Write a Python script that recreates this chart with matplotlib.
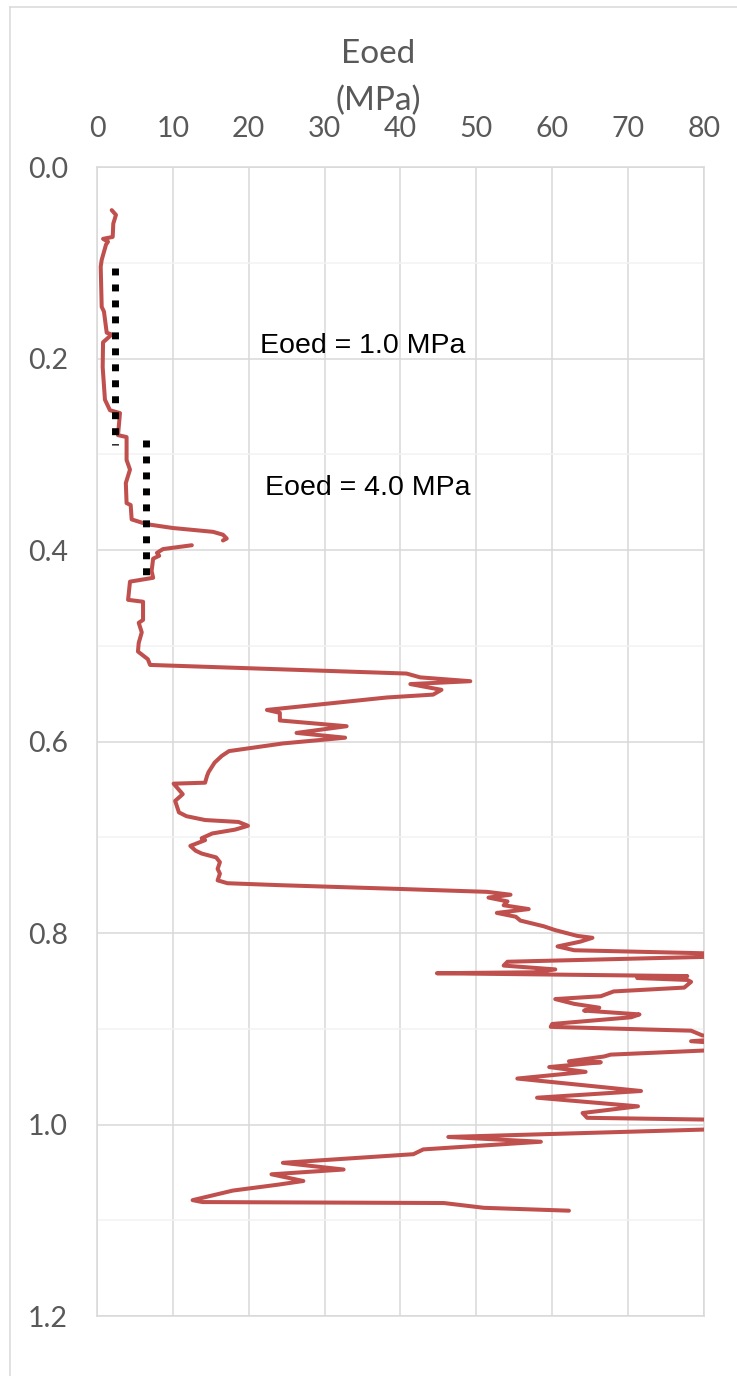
import numpy as np
import matplotlib
matplotlib.use('Agg')
import matplotlib.pyplot as plt
from matplotlib.lines import Line2D

nan = np.nan

# Eoed profile (depth, MPa); nan = gap in the record
depth = [0.045, 0.050, 0.059, 0.073, 0.075, 0.078, 0.081, 0.097, 0.104, 0.146,
         0.151, 0.173, 0.175, 0.183, 0.209, 0.243, 0.254, 0.257, 0.280, 0.282,
         0.306, 0.316, 0.330, 0.351, 0.353, 0.368, 0.373, 0.377, 0.381, 0.384,
         0.388, 0.390, nan,
         0.395, 0.399, 0.403, 0.406, 0.409, 0.422, 0.429, 0.433, 0.452, 0.454,
         0.473, 0.476, 0.486, 0.497, 0.506, 0.514, 0.520,
         0.529, 0.533, 0.537, 0.540, 0.546, 0.551, 0.554, 0.567, 0.570, 0.578,
         0.584, 0.591, 0.596, 0.602, 0.610, 0.615, 0.622, 0.632, 0.636, 0.643,
         0.644, 0.655, 0.662, 0.674, 0.678, 0.682, 0.684, 0.688, 0.692, 0.696,
         0.701, 0.703, 0.709, 0.714, 0.717, 0.721, 0.726, 0.733, 0.738, 0.745,
         0.748, 0.750, 0.754, 0.757, 0.760, 0.763, 0.767, 0.771, 0.775, 0.779,
         0.783, 0.787, 0.793, 0.797, 0.803, 0.805, 0.809, 0.814, 0.818, 0.823,
         0.830, 0.834, 0.838, 0.841, 0.842, 0.845, 0.847, 0.849, 0.851, 0.857,
         0.861, 0.866, 0.869, 0.874, 0.878, 0.881, 0.885, 0.888, 0.895, 0.898,
         0.902, 0.907, 0.910, 0.913, 0.916, 0.921, 0.927, 0.929, 0.934, 0.935,
         0.940, 0.945, 0.952, 0.965, 0.972, 0.981, 0.988, 0.993, 0.996, 1.003,
         1.013, 1.018, 1.026, 1.031, 1.040, 1.047, 1.052, 1.059, 1.063, 1.069,
         1.079, 1.081, 1.082, 1.087, 1.090]
eoed = [1.94, 2.5, 2.15, 2.07, 0.8, 1.45, 1.19, 0.62, 0.49, 0.62,
        0.92, 1.28, 1.94, 0.8, 0.75, 1.05, 1.71, 3.03, 2.77, 3.9,
        3.9, 4.35, 3.8, 3.9, 4.44, 4.57, 6.55, 10.0, 15.3, 16.6,
        17.1, 16.6, nan,
        12.5, 8.7, 7.9, 8.2, 7.4, 7.2, 7.4, 4.35, 4.1, 6.07,
        6.07, 5.5, 5.9, 5.5, 5.4, 6.7, 7.0,
        40.8, 42.6, 49.2, 41.3, 45.4, 44.3, 38.2, 22.4, 24.1, 24.1,
        32.9, 26.3, 32.7, 24.5, 17.4, 16.45, 15.5, 14.7, 14.5, 14.25,
        10.1, 11.3, 10.3, 10.8, 11.8, 14.25, 18.65, 19.9, 18.2, 15.2,
        13.8, 14.25, 12.3, 13.0, 13.8, 15.7, 16.2, 15.9, 16.2, 15.9,
        17.2, 24.0, 40.0, 51.4, 54.5, 51.6, 54.1, 53.6, 56.9, 52.7,
        55.2, 55.8, 58.9, 60.4, 63.3, 65.3, 63.7, 60.7, 62.9, 90.0,
        54.1, 53.6, 60.4, 57.6, 44.8, 77.8, 71.2, 77.8, 78.3, 77.4,
        68.1, 66.4, 60.4, 62.9, 66.2, 64.2, 71.5, 70.4, 60.0, 59.8,
        78.3, 79.8, 84.0, 78.3, 84.0, 85.0, 67.7, 66.8, 62.2, 66.4,
        59.6, 64.4, 55.4, 71.7, 58.0, 71.3, 64.0, 64.6, 90.0, 90.0,
        46.3, 58.5, 43.0, 41.7, 24.5, 32.5, 23.0, 27.2, 23.7, 17.9,
        12.6, 13.9, 45.7, 51.0, 62.2]

# design lines
line1_e = [2.4, 2.4]
line1_d = [0.105, 0.29]
line2_e = [6.5, 6.5]
line2_d = [0.285, 0.43]

x_ticks = list(range(0, 81, 10))
y_ticks = [0.0, 0.2, 0.4, 0.6, 0.8, 1.0, 1.2]

grey_txt = '#595959'
grid_c = '#D9D9D9'

fig = plt.figure(figsize=(7.37, 13.76), dpi=100)
ax = fig.add_axes([0.1316, 0.0436, 0.8236, 0.8350])

ax.plot(eoed, depth, color='#C0504D', lw=2.9, solid_capstyle='round',
        solid_joinstyle='round', zorder=3)
ax.plot(line1_e, line1_d, color='black', lw=5, linestyle=(0, (1, 1.3)),
        dash_capstyle='butt', zorder=4)
ax.plot(line2_e, line2_d, color='black', lw=5, linestyle=(0, (1, 1.3)),
        dash_capstyle='butt', zorder=4)

ax.text(21.5, 0.194, 'Eoed = 1.0 MPa', fontsize=20.5, family='Liberation Sans',
        va='baseline', ha='left', color='black')
ax.text(22.1, 0.342, 'Eoed = 4.0 MPa', fontsize=20.5, family='Liberation Sans',
        va='baseline', ha='left', color='black')

ax.set_xlim(0, 80)
ax.set_ylim(1.2, 0)
ax.xaxis.tick_top()
ax.set_xticks(x_ticks)
ax.set_yticks(y_ticks)
ax.set_yticklabels(['%.1f' % v for v in y_ticks])
ax.set_yticks(np.arange(0.1, 1.2, 0.2), minor=True)
ax.tick_params(axis='both', which='both', length=0, labelcolor=grey_txt,
               labelsize=20.5)
ax.tick_params(axis='x', pad=18)
ax.tick_params(axis='y', pad=21)
for lab in ax.get_xticklabels() + ax.get_yticklabels():
    lab.set_family('Lato')

ax.grid(True, which='major', color=grid_c, lw=1.1, zorder=0)
ax.grid(True, which='minor', axis='y', color='#F2F2F2', lw=1.1, zorder=0)
for s in ax.spines.values():
    s.set_color(grid_c)
    s.set_linewidth(1.1)

# axis title, two lines like the reference
fig.text(378 / 737, 1 - 63 / 1376, 'Eoed', fontsize=24, family='Lato',
         color=grey_txt, ha='center', va='baseline')
fig.text(378 / 737, 1 - 110 / 1376, '(MPa)', fontsize=24, family='Lato',
         color=grey_txt, ha='center', va='baseline')

# chart area border
fig.add_artist(Line2D([10 / 737, 10 / 737], [0, 1 - 7 / 1376],
                      transform=fig.transFigure, color=grid_c, lw=1.1))
fig.add_artist(Line2D([10 / 737, 1], [1 - 7 / 1376, 1 - 7 / 1376],
                      transform=fig.transFigure, color=grid_c, lw=1.1))

fig.savefig('out.png', dpi=100)
